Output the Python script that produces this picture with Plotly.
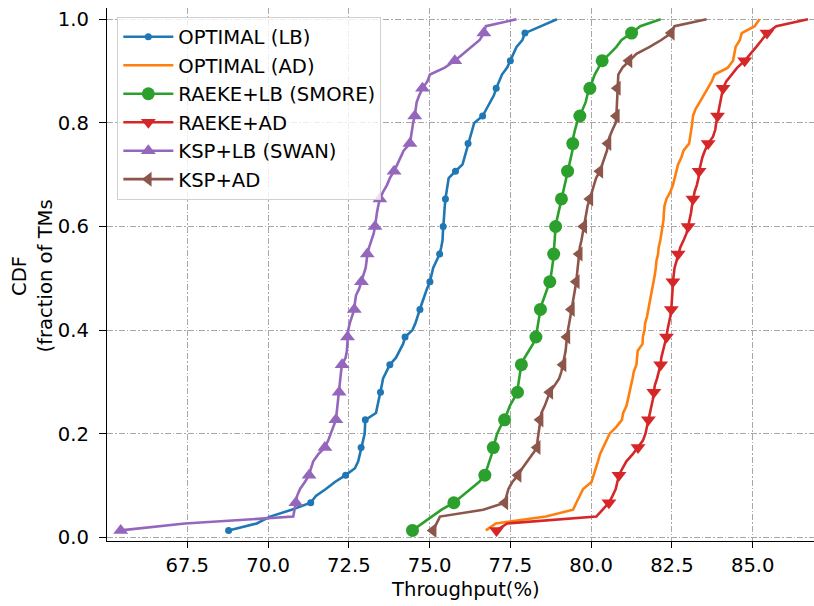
import plotly.graph_objects as go

# CDF levels (fraction of TMs), 75 traffic matrices
cdf_levels = [0.0133, 0.0267, 0.04, 0.0533, 0.0667, 0.08, 0.0933, 0.1067, 0.12, 0.1333,
              0.1467, 0.16, 0.1733, 0.1867, 0.2, 0.2133, 0.2267, 0.24, 0.2533, 0.2667,
              0.28, 0.2933, 0.3067, 0.32, 0.3333, 0.3467, 0.36, 0.3733, 0.3867, 0.4,
              0.4133, 0.4267, 0.44, 0.4533, 0.4667, 0.48, 0.4933, 0.5067, 0.52, 0.5333,
              0.5467, 0.56, 0.5733, 0.5867, 0.6, 0.6133, 0.6267, 0.64, 0.6533, 0.6667,
              0.68, 0.6933, 0.7067, 0.72, 0.7333, 0.7467, 0.76, 0.7733, 0.7867, 0.8,
              0.8133, 0.8267, 0.84, 0.8533, 0.8667, 0.88, 0.8933, 0.9067, 0.92, 0.9333,
              0.9467, 0.96, 0.9733, 0.9867, 1.0]

optimal_lb = [68.78, 69.65, 70.06, 70.73, 71.32, 71.48, 71.79, 72.07, 72.40, 72.69,
              72.79, 72.84, 72.88, 72.94, 72.99, 73.00, 73.01, 73.34, 73.39, 73.42,
              73.48, 73.52, 73.56, 73.67, 73.77, 73.96, 74.06, 74.18, 74.24, 74.47,
              74.56, 74.64, 74.70, 74.77, 74.84, 74.92, 75.01, 75.06, 75.11, 75.21,
              75.31, 75.36, 75.40, 75.41, 75.42, 75.43, 75.45, 75.47, 75.49, 75.52,
              75.55, 75.59, 75.80, 76.02, 76.08, 76.14, 76.19, 76.25, 76.32, 76.38,
              76.64, 76.76, 76.88, 76.99, 77.06, 77.14, 77.24, 77.40, 77.50, 77.58,
              77.69, 77.87, 77.95, 78.45, 78.94]

optimal_ad = [76.74, 77.05, 78.60, 79.44, 79.54, 79.65, 79.75, 80.01, 80.08, 80.16,
              80.21, 80.27, 80.37, 80.47, 80.57, 80.78, 80.95, 80.99, 81.09, 81.14,
              81.19, 81.25, 81.28, 81.32, 81.40, 81.42, 81.44, 81.59, 81.60, 81.65,
              81.67, 81.73, 81.77, 81.82, 81.87, 81.91, 81.94, 81.97, 82.00, 82.02,
              82.07, 82.09, 82.14, 82.18, 82.22, 82.24, 82.25, 82.27, 82.33, 82.45,
              82.53, 82.58, 82.62, 82.69, 82.79, 82.86, 83.03, 83.07, 83.10, 83.13,
              83.15, 83.23, 83.36, 83.48, 83.60, 83.73, 83.82, 84.23, 84.39, 84.42,
              84.47, 84.60, 84.66, 85.06, 85.21]

raeke_lb = [74.47, 74.76, 75.06, 75.37, 75.75, 76.01, 76.27, 76.53, 76.71, 76.78,
            76.86, 76.92, 76.97, 77.02, 77.09, 77.19, 77.32, 77.40, 77.48, 77.60,
            77.72, 77.74, 77.77, 77.80, 77.84, 77.94, 78.06, 78.20, 78.29, 78.32,
            78.35, 78.39, 78.43, 78.49, 78.57, 78.66, 78.72, 78.76, 78.80, 78.82,
            78.84, 78.85, 78.87, 78.89, 78.90, 78.94, 78.99, 79.03, 79.08, 79.13,
            79.18, 79.22, 79.27, 79.32, 79.39, 79.42, 79.43, 79.45, 79.50, 79.56,
            79.65, 79.75, 79.83, 79.88, 79.96, 80.02, 80.11, 80.23, 80.34, 80.57,
            80.78, 80.94, 81.25, 81.52, 82.15]

raeke_ad = [77.07, 77.40, 80.16, 80.37, 80.55, 80.66, 80.76, 80.81, 80.86, 80.97,
            81.09, 81.28, 81.45, 81.60, 81.68, 81.73, 81.77, 81.81, 81.87, 81.91,
            81.94, 81.97, 82.04, 82.10, 82.15, 82.17, 82.22, 82.29, 82.33, 82.36,
            82.41, 82.45, 82.48, 82.50, 82.51, 82.52, 82.53, 82.55, 82.58, 82.64,
            82.69, 82.76, 82.86, 82.95, 83.00, 83.05, 83.09, 83.12, 83.15, 83.20,
            83.27, 83.32, 83.34, 83.38, 83.44, 83.52, 83.62, 83.77, 83.84, 83.87,
            83.91, 83.94, 83.99, 84.04, 84.08, 84.18, 84.36, 84.52, 84.75, 84.94,
            85.11, 85.28, 85.44, 85.73, 86.71]

ksp_lb = [65.44, 67.43, 70.78, 70.81, 70.86, 70.90, 70.99, 71.14, 71.27, 71.33,
          71.40, 71.55, 71.76, 71.86, 71.93, 72.02, 72.10, 72.12, 72.15, 72.18,
          72.20, 72.22, 72.23, 72.26, 72.29, 72.40, 72.44, 72.45, 72.46, 72.48,
          72.53, 72.60, 72.67, 72.69, 72.72, 72.82, 72.89, 72.97, 73.02, 73.05,
          73.07, 73.13, 73.21, 73.27, 73.31, 73.33, 73.37, 73.41, 73.46, 73.56,
          73.68, 73.77, 73.90, 74.00, 74.10, 74.20, 74.39, 74.42, 74.46, 74.49,
          74.54, 74.57, 74.60, 74.68, 74.78, 74.93, 75.01, 75.47, 75.78, 76.04,
          76.30, 76.55, 76.68, 76.74, 77.69]

ksp_ad = [75.11, 75.21, 75.32, 76.66, 77.33, 77.38, 77.44, 77.56, 77.74, 77.87,
          78.03, 78.18, 78.33, 78.34, 78.37, 78.40, 78.42, 78.46, 78.56, 78.65,
          78.72, 78.87, 79.01, 79.08, 79.13, 79.17, 79.21, 79.23, 79.25, 79.28,
          79.32, 79.36, 79.39, 79.43, 79.48, 79.52, 79.54, 79.56, 79.58, 79.61,
          79.63, 79.65, 79.70, 79.74, 79.77, 79.81, 79.86, 79.89, 79.96, 80.03,
          80.09, 80.15, 80.27, 80.35, 80.42, 80.49, 80.52, 80.57, 80.66, 80.76,
          80.78, 80.79, 80.80, 80.80, 80.81, 80.82, 80.84, 80.97, 81.17, 81.40,
          81.81, 82.17, 82.48, 82.58, 83.57]

x_ticks = [67.5, 70.0, 72.5, 75.0, 77.5, 80.0, 82.5, 85.0]
x_tick_labels = ["67.5", "70.0", "72.5", "75.0", "77.5", "80.0", "82.5", "85.0"]
y_ticks = [0.0, 0.2, 0.4, 0.6, 0.8, 1.0]
y_tick_labels = ["0.0", "0.2", "0.4", "0.6", "0.8", "1.0"]

series = [
    ("OPTIMAL (LB)", optimal_lb, "#1f77b4", "circle", 7),
    ("OPTIMAL (AD)", optimal_ad, "#ff7f0e", None, 0),
    ("RAEKE+LB (SMORE)", raeke_lb, "#2ca02c", "circle", 13),
    ("RAEKE+AD", raeke_ad, "#d62728", "triangle-down", 13),
    ("KSP+LB (SWAN)", ksp_lb, "#9467bd", "triangle-up", 13),
    ("KSP+AD", ksp_ad, "#8c564b", "triangle-left", 13),
]

FONT = "DejaVu Sans"
FS = 19.6
fig = go.Figure()
for name, xs, color, sym, size in series:
    fig.add_trace(go.Scatter(x=xs, y=cdf_levels, mode="lines",
                             line=dict(color=color, width=2.6),
                             showlegend=False, hoverinfo="skip"))
    if sym:
        fig.add_trace(go.Scatter(x=xs[::4], y=cdf_levels[::4], mode="markers",
                                 marker=dict(symbol=sym, size=size, color=color,
                                             line=dict(width=0)),
                                 showlegend=False, hoverinfo="skip"))
# legend entries
for name, xs, color, sym, size in series:
    if sym:
        fig.add_trace(go.Scatter(x=[None], y=[None], mode="lines+markers", name=name,
                                 line=dict(color=color, width=2.6),
                                 marker=dict(symbol=sym, size=size, color=color)))
    else:
        fig.add_trace(go.Scatter(x=[None], y=[None], mode="lines", name=name,
                                 line=dict(color=color, width=2.6)))

grid_color = "#a8a8a8"
fig.update_layout(
    width=814, height=606,
    margin=dict(l=107, r=0, t=8, b=65),
    paper_bgcolor="white", plot_bgcolor="white",
    font=dict(family=FONT, size=FS, color="black"),
    showlegend=True,
    legend=dict(x=0.0146, y=0.984, xanchor="left", yanchor="top",
                bgcolor="rgba(255,255,255,0.8)", bordercolor="#d0d0d0", borderwidth=1,
                font=dict(family=FONT, size=FS, color="black"),
                itemwidth=50, tracegroupgap=0),
    xaxis=dict(range=[65.016, 86.896], tickmode="array", tickvals=x_ticks,
               ticktext=x_tick_labels, showgrid=True, gridcolor=grid_color,
               griddash="6px,2px,1.5px,2px", gridwidth=1,
               showline=True, linecolor="black", linewidth=1.3, zeroline=False,
               ticks="outside", ticklen=6, tickwidth=1.3, tickcolor="black",
               ticklabelstandoff=0, tickfont=dict(family=FONT, size=FS, color="black")),
    yaxis=dict(range=[-0.00714, 1.0218], tickmode="array", tickvals=y_ticks,
               ticktext=y_tick_labels, showgrid=True, gridcolor=grid_color,
               griddash="6px,2px,1.5px,2px", gridwidth=1,
               showline=True, linecolor="black", linewidth=1.3, zeroline=False,
               ticks="outside", ticklen=7, tickwidth=1.3, tickcolor="black",
               ticklabelstandoff=6, tickfont=dict(family=FONT, size=FS, color="black")),
    annotations=[
        dict(text="Throughput(%)", xref="paper", yref="paper", x=0.5064, y=-0.0919,
             xanchor="center", yanchor="middle", showarrow=False,
             font=dict(family=FONT, size=FS, color="black")),
        dict(text="CDF<br>(fraction of TMs", xref="paper", yref="paper", x=0, y=0.497,
             xshift=-74.5, xanchor="center", yanchor="middle", textangle=-90,
             showarrow=False, font=dict(family=FONT, size=FS, color="black")),
    ],
)

fig.write_html("out.html")
